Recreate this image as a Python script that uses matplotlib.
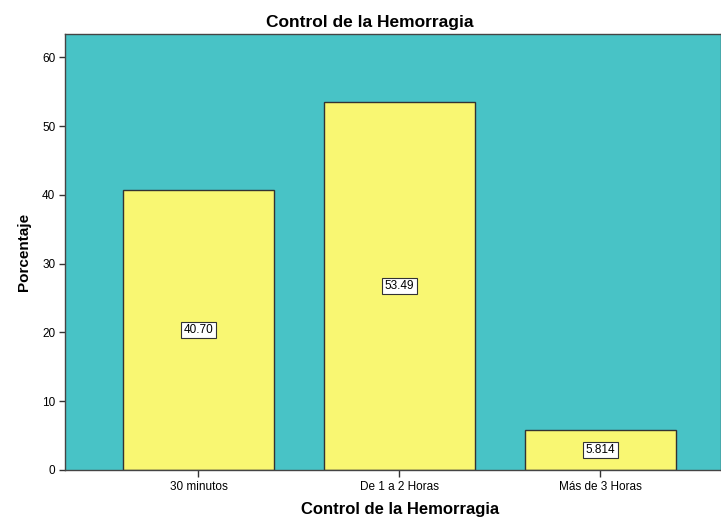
import matplotlib
matplotlib.use("Agg")
import matplotlib.pyplot as plt

categories = ["30 minutos", "De 1 a 2 Horas", "Más de 3 Horas"]
percentages = [40.70, 53.49, 5.814]
value_labels = ["40.70", "53.49", "5.814"]

plt.rcParams["font.family"] = ["Liberation Sans", "DejaVu Sans"]

fig = plt.figure(figsize=(7.21, 5.18), dpi=100)
ax = fig.add_axes([0.0902, 0.0927, 0.9098, 0.8417])
ax.set_facecolor("#48C3C6")

x = range(len(categories))
ax.bar(x, percentages, width=0.75, color="#F9F772", edgecolor="#333333", linewidth=1.0)

for xi, v, lab in zip(x, percentages, value_labels):
    ax.text(xi, v / 2, lab, ha="center", va="center", fontsize=8.5,
            bbox=dict(boxstyle="square,pad=0.2", facecolor="white",
                      edgecolor="#333333", linewidth=0.8))

ax.set_xlim(-0.664, 2.6)
ax.set_ylim(0, 63.4)
ax.set_yticks([0, 10, 20, 30, 40, 50, 60])
ax.set_xticks(list(x))
ax.set_xticklabels(categories)
ax.tick_params(axis="both", labelsize=8.5, length=5, width=1, color="#333333", pad=3)
ax.tick_params(axis="y", length=4)

for side in ["left", "bottom", "top", "right"]:
    ax.spines[side].set_color("#444444")
    ax.spines[side].set_linewidth(1.0)

ax.set_title("Control de la Hemorragia", fontsize=12.5, fontweight="bold",
             pad=5, x=(370 - 65) / 656)
ax.set_xlabel("Control de la Hemorragia", fontsize=12, fontweight="bold", labelpad=6.5)
ax.xaxis.label.set_x((400 - 65) / 656)
ax.set_ylabel("Porcentaje", fontsize=11, fontweight="bold", labelpad=8)

fig.savefig("out.png", dpi=100)
